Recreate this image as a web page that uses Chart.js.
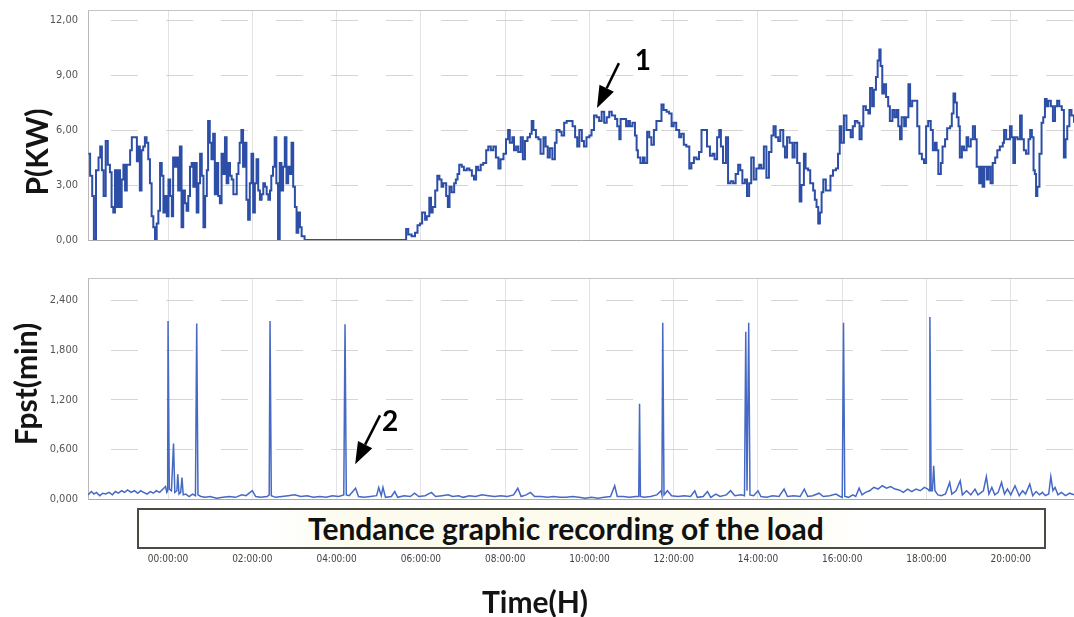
<!DOCTYPE html>
<html>
<head>
<meta charset="utf-8">
<script src="https://cdn.jsdelivr.net/npm/chart.js@4.4.0/dist/chart.umd.min.js"></script>
<style>
  body { margin:0; background:#fff; width:1074px; height:617px; overflow:hidden; position:relative; }
  .caja { position:absolute; left:0; width:1074px; }
  #cajaP { top:0; height:250px; }
  #cajaF { top:260px; height:357px; }
  .tituloY { position:absolute; font-family:Lato, sans-serif; font-weight:bold; font-size:30px; line-height:34px; color:#141414;
             transform:translate(-50%,-50%) rotate(-90deg); white-space:nowrap; }
  #banda { position:absolute; left:137px; top:508px; width:909px; height:41px; box-sizing:border-box;
           border:2px solid #4b4b42; z-index:5;
           background:linear-gradient(to right,#ffffff 0%,#ffffff 14%,#fcfbee 24%,#fcfbee 70%,#ffffff 80%,#ffffff 100%); }
  #banda span { position:absolute; left:169px; top:0; line-height:36px; font-family:Lato, sans-serif; font-weight:bold;
                font-size:30px; color:#111; white-space:nowrap; }
  #tiempo { position:absolute; left:535px; top:601px; transform:translate(-50%,-50%); font-family:Lato, sans-serif;
            font-weight:bold; font-size:30px; color:#141414; white-space:nowrap; }
</style>
</head>
<body>
<div class="caja" id="cajaP"><canvas id="graficoP"></canvas></div>
<div class="caja" id="cajaF"><canvas id="graficoF"></canvas></div>
<div class="tituloY" style="left:36px; top:152px;">P(KW)</div>
<div class="tituloY" style="left:25px; top:384px;">Fpst(min)</div>
<div id="banda"><span>Tendance graphic recording of the load</span></div>
<div id="tiempo">Time(H)</div>
<script>
//datos: potencia (kW) contra hora
var pHoras = [-1.89,-1.85,-1.80,-1.76,-1.71,-1.65,-1.61,-1.57,-1.53,-1.48,-1.43,-1.38,-1.34,-1.30,-1.26,-1.22,-1.18,-1.14,-1.10,-1.06,
  -1.02,-0.98,-0.90,-0.86,-0.78,-0.74,-0.70,-0.67,-0.63,-0.59,-0.55,-0.51,-0.47,-0.43,-0.39,-0.35,-0.31,-0.27,-0.23,-0.19,
  -0.15,-0.11,-0.07,-0.03,0.01,0.05,0.09,0.12,0.16,0.20,0.24,0.28,0.32,0.36,0.40,0.44,0.48,0.52,0.56,0.60,
  0.64,0.68,0.72,0.76,0.80,0.84,0.88,0.92,0.95,0.99,1.03,1.07,1.11,1.15,1.19,1.23,1.27,1.31,1.35,1.39,
  1.43,1.47,1.51,1.55,1.59,1.63,1.67,1.70,1.74,1.78,1.82,1.86,1.90,1.94,1.98,2.02,2.06,2.10,2.14,2.18,
  2.22,2.26,2.30,2.34,2.38,2.42,2.45,2.49,2.53,2.57,2.61,2.65,2.69,2.73,2.77,2.81,2.85,2.89,2.93,2.97,
  3.01,3.05,3.09,3.13,3.17,3.24,5.62,
  5.65,5.70,5.78,5.86,5.92,5.98,6.03,6.10,6.14,6.20,6.24,6.28,6.34,6.39,6.44,6.49,6.53,6.60,6.64,6.68,
  6.73,6.79,6.83,6.87,6.91,6.97,7.02,7.09,7.15,7.21,7.26,7.31,7.36,7.42,7.48,7.55,7.60,7.66,7.72,7.78,
  7.84,7.89,7.96,8.02,8.07,8.11,8.17,8.21,8.26,8.31,8.37,8.42,8.47,8.53,8.59,8.63,8.67,8.73,8.79,8.84,
  8.91,8.96,9.01,9.06,9.12,9.18,9.22,9.29,9.34,9.40,9.46,9.54,9.60,9.66,9.71,9.76,9.82,9.87,9.93,10.00,
  10.05,10.11,10.17,10.23,10.29,10.35,10.41,10.47,10.53,10.61,10.66,10.71,10.74,10.80,10.87,10.92,
  10.96,11.02,11.08,11.12,11.15,11.21,11.27,11.31,11.37,11.42,11.47,11.53,11.59,11.65,11.71,11.76,11.83,11.89,11.95,12.00,
  12.06,12.13,12.18,12.24,12.30,12.37,12.42,12.48,12.54,12.60,12.66,12.74,12.79,12.86,12.92,12.97,13.03,13.08,13.12,13.17,
  13.24,13.29,13.35,13.41,13.47,13.53,13.58,13.63,13.69,13.74,13.79,13.84,13.90,13.96,14.03,14.08,14.14,14.20,14.26,14.32,
  14.37,14.42,14.48,14.53,14.60,14.64,14.69,14.75,14.82,14.87,14.93,14.99,15.03,15.09,15.13,15.19,15.24,15.31,15.35,15.39,
  15.43,15.47,15.51,15.55,15.61,15.66,15.72,15.78,15.85,15.90,15.94,15.98,16.04,16.10,16.16,
  16.20,16.25,16.30,16.36,16.41,16.46,16.50,16.56,16.62,16.66,16.71,16.75,16.80,16.84,16.88,16.91,16.95,16.99,17.04,17.09,
  17.13,17.19,17.24,17.29,17.33,17.37,17.41,17.47,17.51,17.57,17.61,17.66,17.73,17.78,17.83,17.89,17.94,17.99,18.04,18.10,
  18.15,18.20,18.24,18.28,18.34,18.38,18.44,18.49,18.56,18.60,18.64,18.68,18.72,18.76,18.79,18.84,18.89,18.95,18.99,19.05,
  19.10,19.15,19.19,19.25,19.29,19.33,19.37,19.43,19.47,19.52,19.57,19.63,19.68,19.74,19.81,19.84,19.89,19.94,19.98,20.02,
  20.06,20.10,20.16,20.22,20.26,20.31,20.36,20.42,20.46,20.50,20.54,20.57,20.60,20.63,20.68,20.73,20.77,20.81,20.85,20.89,
  20.95,21.00,21.05,21.10,21.15,21.21,21.26,21.30,21.34,21.39,21.44,21.50];
var pKw = [4.7,3.5,2.4,0,3.8,4.5,5.1,3.8,2.4,5.4,4.1,3.7,1.8,1.5,3.8,1.8,3.8,1.8,3.3,4.1,
  2.7,4.1,4.9,5.6,5.6,4.3,5.1,2.7,4.9,5.1,5.6,5.3,4.4,3.1,1.3,0.7,0,0.9,1.6,4.2,
  3.5,1.5,2.4,1.3,3.3,2.4,1.3,4.5,4.0,4.5,2.7,5.1,0.7,2.7,2.0,1.6,2.4,4.0,4.2,2.9,
  4.2,1.5,3.1,4.7,3.5,0.7,2.4,3.8,6.5,5.3,4.4,5.8,2.5,4.2,2.4,2.0,4.7,3.6,5.6,3.1,
  4.2,3.5,3.3,2.5,2.5,3.6,4.2,5.3,6.0,4.0,5.3,2.2,1.1,3.1,4.7,1.5,3.1,4.4,2.7,2.2,
  2.5,3.1,2.9,2.5,2.2,2.7,3.5,4.0,5.6,3.1,0,4.2,2.7,4.0,5.6,3.1,4.0,3.6,5.3,2.9,
  1.8,0.4,1.5,0.7,0.2,0,0,
  0.6,0.3,0.2,0.4,0.8,0.9,1.5,1.1,1.3,2.3,1.5,1.8,2.7,3.5,3.3,2.9,3.1,2.4,1.8,2.9,
  2.6,3.1,3.3,3.6,4.1,4.0,3.8,3.9,3.8,3.5,3.3,4.0,3.8,4.1,4.2,4.9,5.1,4.9,5.1,4.5,
  3.9,4.4,4.7,5.5,6.0,5.3,5.6,4.9,5.1,4.8,5.6,4.4,5.4,5.6,5.8,6.5,6.0,5.6,5.5,4.7,
  5.6,5.1,4.5,5.0,4.4,5.3,6.0,5.9,5.7,6.4,6.5,6.5,6.2,5.6,5.1,6.0,5.4,5.1,5.6,5.7,
  6.0,6.8,6.7,6.5,7.0,6.4,6.7,7.0,6.8,6.6,6.2,5.5,6.6,6.6,6.2,6.5,
  6.2,6.4,5.7,4.9,4.5,4.2,4.5,4.2,5.9,5.6,5.2,6.0,6.5,6.5,7.4,7.1,7.0,6.9,6.2,6.4,
  6.0,5.6,5.8,5.2,5.1,3.9,4.2,4.5,4.4,4.8,6.0,6.0,5.1,4.6,4.7,4.4,5.6,6.0,5.1,4.2,
  5.6,3.1,3.2,3.1,3.6,4.1,3.8,3.1,3.3,2.4,3.1,4.5,3.3,3.9,4.1,3.9,5.1,3.4,4.8,5.7,
  6.2,5.6,5.4,6.0,5.1,4.5,5.6,5.3,4.5,5.3,4.2,2.1,3.0,4.7,3.9,3.8,3.1,2.7,2.2,1.8,
  0.9,1.5,2.6,3.3,2.7,2.7,3.5,3.8,3.9,4.7,6.2,5.3,6.8,6.0,6.0,
  5.6,6.2,6.5,6.4,5.5,6.2,7.3,7.1,6.9,8.3,7.3,8.2,8.9,9.8,10.4,9.5,8.0,8.5,7.8,7.3,
  6.5,7.1,6.7,7.1,6.2,5.5,6.7,6.2,6.7,8.5,7.3,7.6,7.6,6.2,4.7,4.4,4.2,6.2,6.5,6.0,
  4.9,5.3,4.9,3.6,4.2,5.1,5.5,6.1,6.2,6.9,8.0,7.5,6.7,6.2,4.5,5.1,4.9,5.6,5.1,5.5,
  6.2,5.5,4.0,3.1,4.0,2.9,4.0,3.3,4.0,3.1,4.2,4.5,4.9,5.1,5.3,6.0,5.5,5.5,6.2,5.6,
  4.2,5.6,5.5,6.8,5.5,4.9,4.7,5.5,6.0,5.6,3.8,3.6,2.4,2.9,4.7,6.4,6.7,7.7,7.3,7.6,
  7.3,6.5,7.3,7.6,7.3,7.1,4.5,5.5,6.2,7.1,6.8,6.4];

//datos: Fpst (min) contra hora
var fHoras = [-1.90,-1.82,-1.76,-1.70,-1.62,-1.55,-1.48,-1.40,-1.32,-1.25,-1.18,-1.10,-1.03,-0.96,-0.88,-0.80,-0.72,-0.65,-0.58,-0.50,
  -0.42,-0.35,-0.28,-0.20,-0.12,-0.06,-0.03,-0.01,0.00,0.03,0.08,0.13,0.16,0.21,0.23,0.26,0.30,0.33,0.36,0.42,
  0.50,0.58,0.65,0.68,0.71,0.78,0.88,1.00,1.15,1.30,1.45,1.60,1.75,1.85,2.00,2.08,2.20,2.35,2.40,2.42,
  2.45,2.55,2.70,2.85,3.00,3.15,3.30,3.45,3.60,3.75,3.90,4.05,4.17,4.20,4.23,4.30,4.45,4.52,4.65,4.80,
  4.95,5.00,5.06,5.10,5.16,5.30,5.38,5.45,5.60,5.75,5.85,5.95,6.10,6.25,6.35,6.50,6.65,6.75,6.90,7.00,
  7.15,7.30,7.45,7.60,7.75,7.90,8.05,8.20,8.30,8.38,8.50,8.60,8.70,8.85,9.00,9.15,9.30,9.45,9.60,9.75,
  9.90,10.05,10.20,10.35,10.50,10.60,10.66,10.80,10.95,11.10,11.17,11.19,11.21,11.30,11.45,11.60,11.70,11.72,11.74,11.77,
  11.85,11.95,12.10,12.25,12.40,12.50,12.56,12.70,12.80,12.88,13.00,13.10,13.25,13.35,13.45,13.60,13.68,13.71,13.74,13.76,
  13.78,13.81,13.90,14.00,14.07,14.20,14.35,14.50,14.62,14.70,14.85,15.00,15.10,15.18,15.30,15.45,15.55,15.70,15.85,15.95,
  16.00,16.03,16.06,16.15,16.25,16.32,16.40,16.47,16.55,16.65,16.75,16.85,16.95,17.05,17.15,17.25,17.35,17.45,17.55,17.65,
  17.75,17.85,17.95,18.03,18.06,18.08,18.11,18.14,18.17,18.20,18.27,18.35,18.45,18.55,18.60,18.70,18.80,18.85,18.95,19.05,
  19.15,19.22,19.30,19.35,19.42,19.48,19.55,19.62,19.70,19.78,19.85,19.92,20.00,20.10,20.20,20.28,20.35,20.45,20.52,20.60,
  20.68,20.75,20.82,20.90,20.95,21.00,21.05,21.12,21.20,21.30,21.40,21.50];
var fMin = [0.05,0.09,0.06,0.08,0.04,0.07,0.06,0.08,0.05,0.09,0.07,0.10,0.08,0.11,0.08,0.10,0.07,0.10,0.08,0.06,
  0.09,0.07,0.10,0.08,0.12,0.15,0.08,0.10,2.15,0.12,0.10,0.67,0.08,0.10,0.30,0.06,0.08,0.26,0.05,0.06,
  0.03,0.06,0.04,2.12,0.05,0.03,0.02,0.03,0.01,0.02,0.03,0.02,0.05,0.04,0.10,0.03,0.02,0.03,0.05,2.15,
  0.04,0.02,0.03,0.04,0.05,0.03,0.04,0.02,0.03,0.02,0.04,0.03,0.05,2.11,0.05,0.04,0.13,0.03,0.02,0.03,
  0.04,0.14,0.04,0.14,0.02,0.03,0.09,0.02,0.04,0.03,0.07,0.03,0.04,0.08,0.03,0.04,0.05,0.03,0.04,0.02,
  0.04,0.03,0.05,0.04,0.03,0.04,0.03,0.05,0.13,0.03,0.05,0.08,0.03,0.03,0.02,0.03,0.02,0.02,0.03,0.02,
  0.01,0.02,0.01,0.02,0.03,0.16,0.03,0.03,0.02,0.03,0.03,1.15,0.03,0.02,0.03,0.05,0.10,0.05,2.13,0.05,
  0.10,0.04,0.03,0.04,0.03,0.10,0.02,0.03,0.09,0.02,0.06,0.03,0.05,0.10,0.04,0.05,0.04,2.02,0.10,0.10,
  2.13,0.05,0.04,0.10,0.03,0.02,0.04,0.03,0.12,0.03,0.04,0.03,0.12,0.03,0.04,0.07,0.03,0.04,0.06,0.03,
  0.02,2.13,0.03,0.02,0.05,0.03,0.13,0.05,0.08,0.10,0.14,0.12,0.16,0.13,0.15,0.12,0.11,0.08,0.12,0.09,
  0.12,0.10,0.14,0.12,0.10,2.20,0.10,0.10,0.40,0.10,0.05,0.04,0.06,0.20,0.06,0.10,0.22,0.05,0.10,0.05,
  0.12,0.05,0.08,0.10,0.27,0.06,0.14,0.05,0.08,0.20,0.06,0.12,0.05,0.16,0.04,0.10,0.06,0.18,0.04,0.09,
  0.05,0.08,0.04,0.06,0.27,0.10,0.14,0.05,0.08,0.04,0.07,0.05];

//marcas de los ejes
var horasTicks = [0,2,4,6,8,10,12,14,16,18,20];
var etiquetasHoras = ["00:00:00","02:00:00","04:00:00","06:00:00","08:00:00","10:00:00",
  "12:00:00","14:00:00","16:00:00","18:00:00","20:00:00"];
var pTicks = [0,3,6,9,12];
var pEtiquetas = ["0,00","3,00","6,00","9,00","12,00"];
var fTicks = [0,0.6,1.2,1.8,2.4];
var fEtiquetas = ["0,000","0,600","1,200","1,800","2,400"];

//flechas de anotacion, en unidades de los datos (hora, valor)
var flecha1 = { desde:[10.70,9.65], hasta:[10.18,7.2], texto:"1", posTexto:[11.27,9.75] };
var flecha2 = { desde:[5.03,1.01], hasta:[4.44,0.42], texto:"2", posTexto:[5.27,0.93] };

var fuenteAngosta = "'Liberation Sans Narrow', 'DejaVu Sans Condensed', sans-serif";

//plugin que dibuja el borde superior y la flecha con su numero
var pluginExtras = {
  id: 'extras',
  afterDraw: function(chart, args, opts) {
    var ctx = chart.ctx;
    var area = chart.chartArea;
    ctx.save();
    ctx.strokeStyle = '#c4c4c4';
    ctx.lineWidth = 1;
    ctx.beginPath();
    ctx.moveTo(area.left, area.top + 0.5);
    ctx.lineTo(area.right, area.top + 0.5);
    ctx.stroke();
    var f = opts.flecha;
    if (f) {
      var xs = chart.scales.x, ys = chart.scales.y;
      var x0 = xs.getPixelForValue(f.desde[0]), y0 = ys.getPixelForValue(f.desde[1]);
      var x1 = xs.getPixelForValue(f.hasta[0]), y1 = ys.getPixelForValue(f.hasta[1]);
      var ang = Math.atan2(y1 - y0, x1 - x0);
      var largo = 22, ancho = 8;
      var bx = x1 - largo * Math.cos(ang), by = y1 - largo * Math.sin(ang);
      ctx.strokeStyle = '#000';
      ctx.lineWidth = 2.5;
      ctx.beginPath();
      ctx.moveTo(x0, y0);
      ctx.lineTo(bx, by);
      ctx.stroke();
      ctx.fillStyle = '#000';
      ctx.beginPath();
      ctx.moveTo(x1, y1);
      ctx.lineTo(bx + ancho * Math.sin(ang), by - ancho * Math.cos(ang));
      ctx.lineTo(bx - ancho * Math.sin(ang), by + ancho * Math.cos(ang));
      ctx.closePath();
      ctx.fill();
      ctx.font = 'bold 28px Lato, sans-serif';
      ctx.textAlign = 'center';
      ctx.textBaseline = 'middle';
      ctx.fillText(f.texto, xs.getPixelForValue(f.posTexto[0]), ys.getPixelForValue(f.posTexto[1]));
    }
    ctx.restore();
  }
};

function crearGrafico(id, horas, valores, color, grosor, escalonado, yTicks, yEtiquetas, yMax, conHoras, altoX, padArriba, flecha) {
  var puntos = horas.map(function(h, i) { return { x: h, y: valores[i] }; });
  return new Chart(document.getElementById(id), {
    type: 'line',
    data: {
      datasets: [{
        data: puntos,
        borderColor: color,
        borderWidth: grosor,
        pointRadius: 0,
        stepped: escalonado,
        tension: 0,
        fill: false
      }]
    },
    options: {
      responsive: true,
      maintainAspectRatio: false,
      animation: false,
      layout: { padding: { top: padArriba, right: 0, bottom: 0, left: 0 } },
      plugins: { legend: { display: false }, tooltip: { enabled: false }, extras: { flecha: flecha } },
      scales: {
        x: {
          type: 'linear', min: -1.9, max: 21.5,
          afterBuildTicks: function(s) { s.ticks = horasTicks.map(function(v) { return { value: v }; }); },
          afterFit: function(s) { s.height = altoX; s.paddingLeft = 0; s.paddingRight = 0; },
          grid: { color: '#e3e3e3', drawTicks: false },
          border: { color: '#a9a9a9' },
          ticks: {
            display: conHoras, padding: 54, autoSkip: false, maxRotation: 0, color: '#444',
            font: { family: fuenteAngosta, size: 10 },
            callback: function(v) { return etiquetasHoras[horasTicks.indexOf(v)]; }
          }
        },
        y: {
          min: 0, max: yMax,
          afterBuildTicks: function(s) { s.ticks = yTicks.map(function(v) { return { value: v }; }); },
          afterFit: function(s) { s.width = 88; s.paddingTop = 0; s.paddingBottom = 0; },
          grid: { color: '#d4d4d4', drawTicks: false },
          border: { color: '#b8b8b8', dash: [27, 28], dashOffset: 33 },
          ticks: {
            padding: 10, color: '#555',
            font: { family: fuenteAngosta, size: 11 },
            callback: function(v) { return yEtiquetas[yTicks.indexOf(v)]; }
          }
        }
      }
    },
    plugins: [pluginExtras]
  });
}

crearGrafico('graficoP', pHoras, pKw, '#2c4ea6', 2, true, pTicks, pEtiquetas, 12.55, false, 10, 10, flecha1);
crearGrafico('graficoF', fHoras, fMin, '#4569c4', 1.5, false, fTicks, fEtiquetas, 2.67, true, 118, 18, flecha2);
</script>
</body>
</html>
